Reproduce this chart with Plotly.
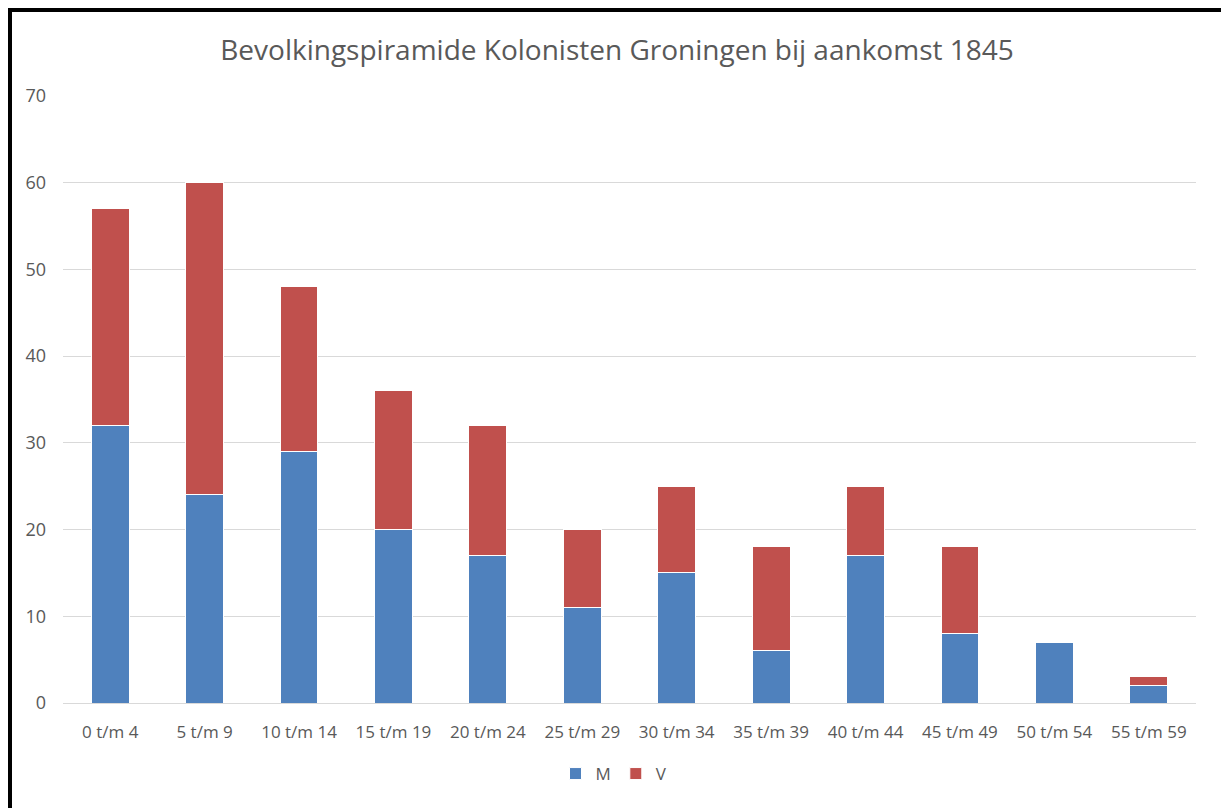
import plotly.graph_objects as go

categories = ["0 t/m 4", "5 t/m 9", "10 t/m 14", "15 t/m 19", "20 t/m 24", "25 t/m 29",
              "30 t/m 34", "35 t/m 39", "40 t/m 44", "45 t/m 49", "50 t/m 54", "55 t/m 59"]
m_values = [32, 24, 29, 20, 17, 11, 15, 6, 17, 8, 7, 2]
v_values = [25, 36, 19, 16, 15, 9, 10, 12, 8, 10, 0, 1]
y_ticks = [0, 10, 20, 30, 40, 50, 60, 70]

W, H = 1221, 808
ml, mt = 63, 96
mr = W - 1196
mb = H - 703

fig = go.Figure()
fig.add_trace(go.Bar(name="M", x=categories, y=m_values,
                     marker=dict(color="#4F81BD", line=dict(color="#FFFFFF", width=1))))
fig.add_trace(go.Bar(name="V", x=categories, y=v_values,
                     marker=dict(color="#C0504D", line=dict(color="#FFFFFF", width=1))))

pw = W - ml - mr
ph = H - mt - mb
def px_x(x):
    return (x - ml) / pw
def px_y(y):
    return (H - mb - y) / ph

fig.update_layout(
    width=W, height=H,
    barmode="stack", bargap=0.6,
    margin=dict(l=ml, r=mr, t=mt, b=mb, autoexpand=False),
    paper_bgcolor="white", plot_bgcolor="white",
    font=dict(family="Open Sans, Lato, sans-serif", color="#595959", size=17),
    title=dict(text="Bevolkingspiramide Kolonisten Groningen bij aankomst 1845",
               xref="container", yref="container",
               x=617 / W, xanchor="center", y=1 - 50 / H, yanchor="middle",
               font=dict(size=28, color="#595959")),
    xaxis=dict(showgrid=False, ticks="", tickfont=dict(size=17, color="#595959"),
               showline=True, linecolor="#D9D9D9", linewidth=1, ticklabelstandoff=14),
    yaxis=dict(range=[0, 70], tickvals=y_ticks, showgrid=True, gridcolor="#D9D9D9",
               gridwidth=1, zeroline=False, ticks="", ticklabelstandoff=16,
               tickfont=dict(size=18, color="#595959")),
    legend=dict(orientation="h", x=px_x(614), xanchor="center", y=px_y(774), yanchor="middle",
                traceorder="normal", itemwidth=30,
                font=dict(size=17, color="#595959")),
    shapes=[
        dict(type="line", xref="paper", yref="paper", x0=px_x(8), x1=px_x(W + 10),
             y0=px_y(10), y1=px_y(10), line=dict(color="black", width=4)),
        dict(type="line", xref="paper", yref="paper", x0=px_x(10), x1=px_x(10),
             y0=px_y(8), y1=px_y(H + 10), line=dict(color="black", width=4)),
    ],
)

fig.write_html(
    "out.html",
    config={"displayModeBar": False},
    post_script="document.body.style.margin='0';document.documentElement.style.overflow='hidden';",
)
